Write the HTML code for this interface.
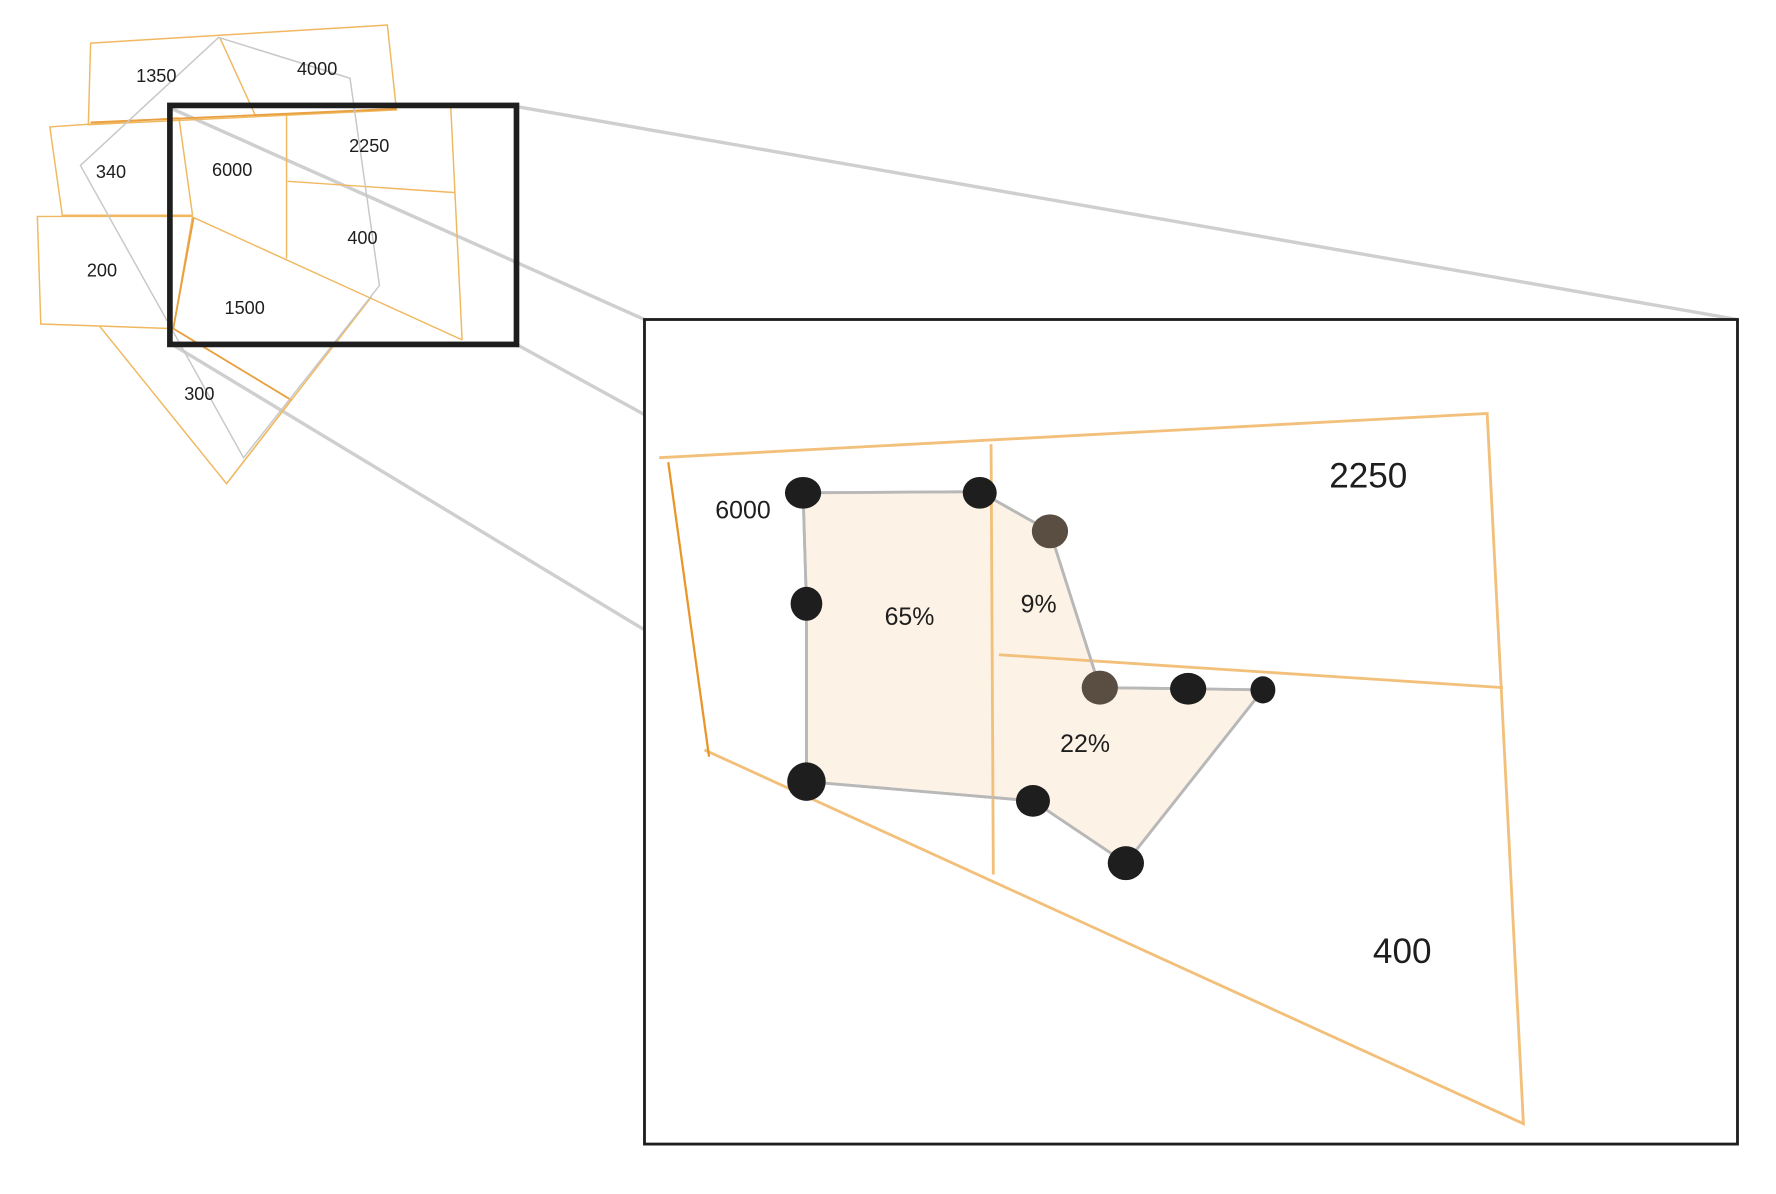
<!DOCTYPE html>
<html><head><meta charset="utf-8"><style>
html,body{margin:0;padding:0;background:#fff;}
svg{display:block;}
text{font-family:"Liberation Sans",sans-serif;fill:#1e1e1e;text-anchor:middle;dominant-baseline:middle;}
</style></head><body>
<svg width="1776" height="1194" viewBox="0 0 1568 1054" xmlns="http://www.w3.org/2000/svg">
<rect x="0" y="0" width="1568" height="1054" fill="#fff"/>
<g stroke="#cfcfcf" stroke-width="3" fill="none">
<line x1="456" y1="94" x2="1534" y2="282"/>
<line x1="152" y1="96" x2="569" y2="282"/>
<line x1="456" y1="304" x2="569" y2="366"/>
<line x1="152" y1="304" x2="569" y2="556"/>
</g>
<g stroke="#f0b860" stroke-width="1.3" fill="none">
<polygon points="80,38 342,22 350,97 78,110"/>
<line x1="194" y1="33" x2="226" y2="103"/>
<polyline points="158,104 44,112 55,190 170,190"/>
<polygon points="33,191 170,191 153,290 36,286"/>
<line x1="158" y1="104" x2="170" y2="190"/>
<line x1="253" y1="100" x2="253" y2="228"/>
<line x1="254" y1="160" x2="402" y2="170"/>
<line x1="398" y1="95" x2="408" y2="300"/>
<line x1="171" y1="192" x2="408" y2="300"/>
<polyline points="88,288 200,427 257,353"/>
<line x1="328" y1="262" x2="200" y2="427"/>
</g>
<g stroke="#e9a040" stroke-width="1.6" fill="none">
<line x1="171" y1="192" x2="153" y2="290"/>
<line x1="153" y1="290" x2="257" y2="353"/>
<line x1="80" y1="108" x2="350" y2="96"/>
</g>
<polygon points="193,33 309,69 335,252 215,404 71,146" fill="none" stroke="#c8c8c8" stroke-width="1.3"/>
<rect x="150" y="93" width="306" height="211" fill="none" stroke="#1e1e1e" stroke-width="5"/>
<g font-size="16">
<text x="138" y="68">1350</text>
<text x="280" y="62">4000</text>
<text x="98" y="153">340</text>
<text x="205" y="151">6000</text>
<text x="326" y="130">2250</text>
<text x="320" y="211">400</text>
<text x="90" y="240">200</text>
<text x="216" y="273">1500</text>
<text x="176" y="349">300</text>
</g>
<rect x="569" y="282" width="965" height="728" fill="#fff" stroke="#1e1e1e" stroke-width="2.5"/>
<polygon points="709,435 865,434 927,469 971,607 1049,608 1115,609 994,762 912,707 712,690 712,533" fill="#fdf2e6" stroke="#b8b8b8" stroke-width="2.5"/>
<g stroke="#f2c07a" stroke-width="2.5" fill="none">
<polyline points="582,404 1313,365 1345,992 622,662"/>
<line x1="875" y1="392" x2="877" y2="772"/>
<line x1="882" y1="578" x2="1327" y2="607"/>
</g>
<line x1="590" y1="408" x2="626" y2="668" stroke="#e8962a" stroke-width="2"/>
<polyline points="709,435 865,434 927,469 971,607 1049,608 1115,609 994,762 912,707 712,690 712,533 709,435" fill="none" stroke="#b8b8b8" stroke-width="2.5" opacity="0.8"/>
<g fill="#1e1e1e">
<ellipse cx="709" cy="435" rx="16" ry="14"/>
<ellipse cx="865" cy="435" rx="15" ry="14"/>
<ellipse cx="712" cy="533" rx="14" ry="15"/>
<ellipse cx="1049" cy="608" rx="16" ry="14"/>
<ellipse cx="1115" cy="609" rx="11" ry="12"/>
<ellipse cx="712" cy="690" rx="17" ry="17"/>
<ellipse cx="912" cy="707" rx="15" ry="14"/>
<ellipse cx="994" cy="762" rx="16" ry="15"/>
</g>
<g fill="#5a4d42">
<ellipse cx="927" cy="469" rx="16" ry="15"/>
<ellipse cx="971" cy="607" rx="16" ry="15"/>
</g>
<g font-size="22">
<text x="656" y="452">6000</text>
<text x="803" y="546">65%</text>
<text x="917" y="535">9%</text>
<text x="958" y="658">22%</text>
</g>
<g font-size="31">
<text x="1208" y="422">2250</text>
<text x="1238" y="842">400</text>
</g>
</svg>
</body></html>
